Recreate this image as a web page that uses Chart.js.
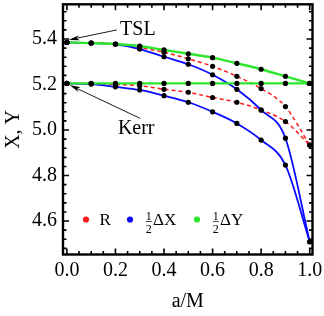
<!DOCTYPE html>
<html>
<head>
<meta charset="utf-8">
<script src="https://cdn.jsdelivr.net/npm/chart.js@4.4.1/dist/chart.umd.min.js"></script>
<style>
  html, body { margin: 0; padding: 0; background: #fff; }
  #wrap { width: 324px; height: 316px; }
</style>
</head>
<body>
<div id="wrap"><canvas id="shadowChart" width="324" height="316"></canvas></div>
<script>
// spin a/M and shadow sizes
const spins = [0, 0.1, 0.2, 0.3, 0.4, 0.5, 0.6, 0.7, 0.8, 0.9, 1.0];

const tslR = [5.385, 5.382, 5.378, 5.362, 5.342, 5.313, 5.280, 5.236, 5.182, 5.103, 4.934];
const tslX = [5.385, 5.382, 5.377, 5.356, 5.322, 5.289, 5.243, 5.179, 5.088, 4.964, 4.509];
const tslY = [5.385, 5.382, 5.378, 5.369, 5.352, 5.335, 5.318, 5.293, 5.267, 5.236, 5.205];

const kerrR = [5.205, 5.204, 5.200, 5.195, 5.179, 5.166, 5.143, 5.122, 5.088, 5.037, 4.934];
const kerrX = [5.205, 5.202, 5.190, 5.176, 5.151, 5.122, 5.080, 5.029, 4.956, 4.846, 4.509];
const kerrY = [5.205, 5.205, 5.205, 5.205, 5.205, 5.205, 5.205, 5.205, 5.205, 5.205, 5.205];

const xTicks = [0.0, 0.2, 0.4, 0.6, 0.8, 1.0];
const yTicks = [4.6, 4.8, 5.0, 5.2, 5.4];

const RED = '#ff1a1a';
const BLUE = '#0a0aff';
const GREEN = '#2ee62e';
const FONT = '"Liberation Serif", "DejaVu Serif", serif';

function toPoints(vals) {
    return spins.map((a, i) => ({ x: a, y: vals[i] }));
}

function lineSet(vals, color, width, dash, ord) {
    return {
        data: toPoints(vals),
        borderColor: color,
        borderWidth: width,
        borderDash: dash,
        pointRadius: 0,
        cubicInterpolationMode: 'monotone',
        fill: false,
        clip: false,
        order: ord,
    };
}

function dotSet(vals) {
    return {
        data: toPoints(vals),
        showLine: false,
        pointRadius: 2.6,
        pointBackgroundColor: '#000',
        pointBorderWidth: 0,
        clip: false,
        order: 0,
    };
}

// ---- frame, inner ticks, arrows and legend ----
const framePlugin = {
    id: 'frame',
    afterDatasetsDraw(chart) {
        const ctx = chart.ctx;
        const { left, right, top, bottom } = chart.chartArea;
        const xs = chart.scales.x, ys = chart.scales.y;
        ctx.save();

        // ticks on all four sides
        ctx.strokeStyle = '#000';
        ctx.lineWidth = 1.6;
        ctx.beginPath();
        for (let i = 0; i <= 20; i++) {
            const v = i * 0.05;
            const px = xs.getPixelForValue(v);
            const len = i % 4 === 0 ? 6 : 3.5;
            ctx.moveTo(px, bottom); ctx.lineTo(px, bottom - len);
            ctx.moveTo(px, top); ctx.lineTo(px, top + len);
        }
        for (let i = 112; i <= 138; i++) {
            const v = i * 0.04;
            if (v < ys.min || v > ys.max) continue;
            const py = ys.getPixelForValue(v);
            const len = i % 5 === 0 ? 6 : 3.5;
            ctx.moveTo(left, py); ctx.lineTo(left + len, py);
            ctx.moveTo(right, py); ctx.lineTo(right - len, py);
        }
        ctx.stroke();

        ctx.lineWidth = 2.4;
        ctx.strokeRect(left, top, right - left, bottom - top);

        // annotations
        function arrow(x1, y1, x2, y2) {
            const ax = xs.getPixelForValue(x1), ay = ys.getPixelForValue(y1);
            const bx = xs.getPixelForValue(x2), by = ys.getPixelForValue(y2);
            const ang = Math.atan2(by - ay, bx - ax);
            ctx.lineWidth = 0.9;
            ctx.beginPath();
            ctx.moveTo(ax, ay);
            ctx.lineTo(bx - 6 * Math.cos(ang), by - 6 * Math.sin(ang));
            ctx.stroke();
            ctx.beginPath();
            ctx.moveTo(bx, by);
            ctx.lineTo(bx - 11 * Math.cos(ang) + 2.6 * Math.sin(ang), by - 11 * Math.sin(ang) - 2.6 * Math.cos(ang));
            ctx.lineTo(bx - 8 * Math.cos(ang), by - 8 * Math.sin(ang));
            ctx.lineTo(bx - 11 * Math.cos(ang) - 2.6 * Math.sin(ang), by - 11 * Math.sin(ang) + 2.6 * Math.cos(ang));
            ctx.closePath();
            ctx.fillStyle = '#000';
            ctx.fill();
        }
        arrow(0.206, 5.44, 0.007, 5.396);
        arrow(0.302, 5.051, 0.011, 5.198);

        ctx.fillStyle = '#000';
        ctx.font = '20px ' + FONT;
        ctx.textBaseline = 'middle';
        ctx.textAlign = 'left';
        ctx.fillText('TSL', xs.getPixelForValue(0.219), ys.getPixelForValue(5.441));
        ctx.fillText('Kerr', xs.getPixelForValue(0.21), ys.getPixelForValue(5.004));

        // legend
        const ly = bottom - 35;
        const items = [
            { color: RED, label: 'R', x: left + 23, frac: false },
            { color: BLUE, label: '\u0394X', x: left + 67, frac: true },
            { color: GREEN, label: '\u0394Y', x: left + 134, frac: true },
        ];
        items.forEach(it => {
            ctx.fillStyle = it.color;
            ctx.beginPath();
            ctx.arc(it.x, ly, 3.1, 0, Math.PI * 2);
            ctx.fill();
            ctx.fillStyle = '#000';
            ctx.textBaseline = 'alphabetic';
            if (!it.frac) {
                ctx.font = '17px ' + FONT;
                ctx.textAlign = 'left';
                ctx.fillText(it.label, it.x + 13.5, ly + 5);
            } else {
                const fx = it.x + 18.8;
                ctx.font = '12px ' + FONT;
                ctx.textAlign = 'center';
                ctx.fillText('1', fx, ly);
                ctx.fillText('2', fx, ly + 13.5);
                ctx.lineWidth = 0.7;
                ctx.beginPath();
                ctx.moveTo(fx - 3, ly + 2);
                ctx.lineTo(fx + 3, ly + 2);
                ctx.stroke();
                ctx.font = '17px ' + FONT;
                ctx.textAlign = 'left';
                ctx.fillText(it.label, it.x + 23, ly + 5);
            }
        });
        ctx.restore();
    }
};

const tickFont = { family: FONT, size: 20 };
const titleFont = { family: FONT, size: 20 };

new Chart(document.getElementById('shadowChart'), {
    type: 'line',
    data: {
        datasets: [
            lineSet(tslY, GREEN, 2.4, [], 1),
            lineSet(kerrY, GREEN, 2.4, [], 1),
            lineSet(tslX, BLUE, 1.8, [], 2),
            lineSet(kerrX, BLUE, 1.8, [], 2),
            lineSet(tslR, RED, 1.5, [4, 3], 3),
            lineSet(kerrR, RED, 1.5, [4, 3], 3),
            dotSet(tslY), dotSet(kerrY),
            dotSet(tslX), dotSet(kerrX),
            dotSet(tslR), dotSet(kerrR),
        ]
    },
    options: {
        responsive: false,
        animation: false,
        events: [],
        layout: { padding: { top: 4.3, right: 11.5, left: 0, bottom: 0 } },
        plugins: { legend: { display: false }, tooltip: { enabled: false } },
        scales: {
            x: {
                type: 'linear',
                min: -0.016,
                max: 1.0115,
                grid: { display: false, drawTicks: false },
                border: { display: false },
                afterBuildTicks: s => { s.ticks = xTicks.map(v => ({ value: v })); },
                afterFit: s => { s.height = 61.5; s.paddingLeft = 0; s.paddingRight = 0; },
                ticks: {
                    color: '#000',
                    font: tickFont,
                    padding: 4,
                    maxRotation: 0,
                    autoSkip: false,
                    callback: v => v.toFixed(1),
                },
                title: {
                    display: true,
                    text: 'a/M',
                    color: '#000',
                    font: titleFont,
                    padding: { top: 0, bottom: 2 },
                },
            },
            y: {
                min: 4.453,
                max: 5.5525,
                grid: { display: false, drawTicks: false },
                border: { display: false },
                afterBuildTicks: s => { s.ticks = yTicks.map(v => ({ value: v })); },
                afterFit: s => { s.width = 63; s.paddingTop = 0; s.paddingBottom = 0; },
                ticks: {
                    color: '#000',
                    font: tickFont,
                    padding: 6,
                    autoSkip: false,
                    callback: v => v.toFixed(1),
                },
                title: {
                    display: true,
                    text: 'X, Y',
                    color: '#000',
                    font: titleFont,
                    padding: { top: 2, bottom: 0 },
                },
            }
        }
    },
    plugins: [framePlugin]
});
</script>
</body>
</html>
